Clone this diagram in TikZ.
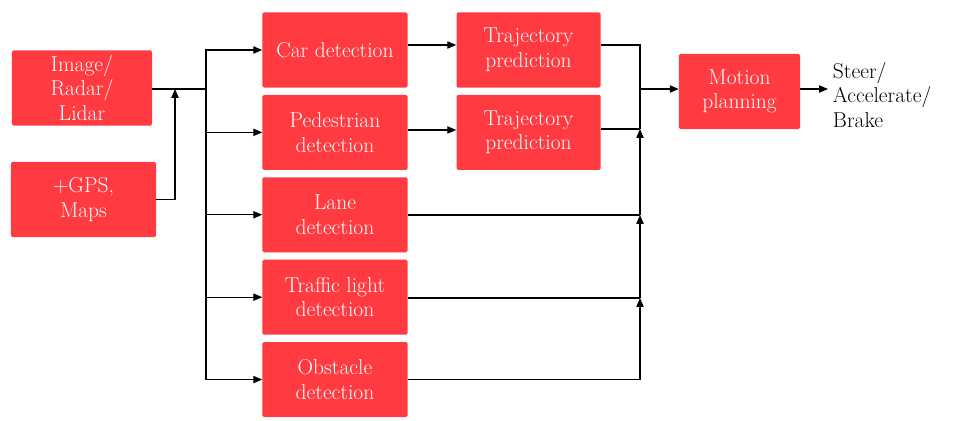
\documentclass[tikz,border=0pt]{standalone}
\usepackage{xcolor}
\usepackage{tikz}
\usetikzlibrary{arrows.meta, positioning}
\definecolor{boxred}{RGB}{255, 58, 64}

\begin{document}
\begin{tikzpicture}[
    x=0.025cm, y=-0.025cm,
    node distance=0.17cm and 1.21cm,
    every node/.style={font=\fontsize{15.3}{17.5}\selectfont},
    block/.style={rectangle, fill=boxred, text=white, rounded corners=1pt, minimum width=3.625cm, minimum height=1.875cm, align=center, inner sep=2pt},
    line/.style={line width=0.8pt},
    arrow/.style={-{Triangle[length=2.2mm, width=1.8mm]}, line width=0.8pt}
]
    \useasboundingbox (0,0) rectangle (977,420);

    \node (sensor) [block, minimum width=3.5cm] at (82,88) {Image/\\Radar/\\Lidar};
    \node (gps) [block] at (83.5,199.5) {+GPS,\\Maps};
    \node (car) [block] at (335,50) {Car detection};
    \node (ped) [block, below=of car] {Pedestrian\\detection};
    \node (lane) [block, below=of ped] {Lane\\detection};
    \node (light) [block, below=of lane] {Traffic light\\detection};
    \node (obstacle) [block, below=of light] {Obstacle\\detection};
    \node (traj1) [block, minimum width=3.6cm, right=of car] {Trajectory\\prediction};
    \node (traj2) [block, minimum width=3.6cm, right=of ped] {Trajectory\\prediction};
    \node (motion) [block, minimum width=3.025cm] at (739.5,91.5) {Motion\\planning};
    \node (act) [anchor=west, align=left] at (828,95) {Steer/\\Accelerate/\\Brake};

    \coordinate (join) at (175,89);
    \coordinate (split) at (206,89);
    \coordinate (m1) at (640,89);
    \coordinate (m2) at (640,129);
    \coordinate (m3) at (640,215);
    \coordinate (m4) at (640,298);

    % inputs
    \draw [line] (sensor.east |- split) -- (split);
    \draw [arrow] (gps) -| (join);
    \draw [arrow] (split) |- (car);
    \draw [arrow] (split) |- (ped);
    \draw [arrow] (split) |- (lane);
    \draw [arrow] (split) |- (light);
    \draw [arrow] (split) |- (obstacle);

    % prediction
    \draw [arrow] ([yshift=0.125cm]car.east) -- ([yshift=0.125cm]traj1.west);
    \draw [arrow] ([yshift=0.06cm]ped.east) -- ([yshift=0.06cm]traj2.west);

    % merge
    \draw [line] ([yshift=0.125cm]traj1.east) -| (m2);
    \draw [line] (traj2.east |- m2) -- (m2);
    \draw [line] (lane.east |- m3) -- (m3);
    \draw [line] (light.east |- m4) -- (m4);
    \draw [arrow] (obstacle) -| (m4);
    \draw [arrow] (m4) -- (m3);
    \draw [arrow] (m3) -- (m2);
    \draw [arrow] (m1) -- (motion.west |- m1);
    \draw [arrow] (motion.east |- m1) -- (act.west |- m1);
\end{tikzpicture}
\end{document}
